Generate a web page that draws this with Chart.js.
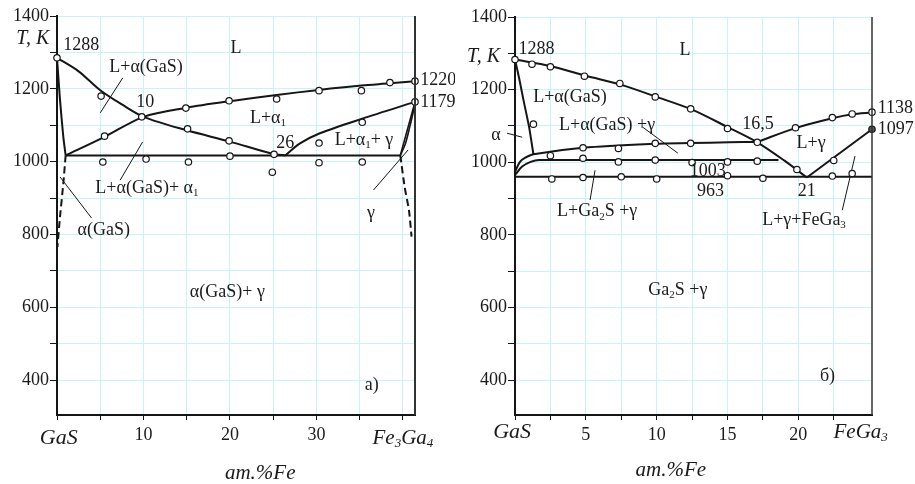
<!DOCTYPE html>
<html>
<head>
<meta charset="utf-8">
<script src="https://cdn.jsdelivr.net/npm/chart.js@4.4.0/dist/chart.umd.min.js"></script>
<style>
  body { margin: 0; background: #fff; }
  #wrap { position: relative; width: 915px; height: 484px; }
  canvas { position: absolute; top: 0; }
  #chartA { left: 0; }
  #chartB { left: 455px; }
</style>
</head>
<body>
<div id="wrap">
  <canvas id="chartA" width="455" height="484"></canvas>
  <canvas id="chartB" width="460" height="484"></canvas>
</div>
<script>
// ---- данные: а) GaS – Fe3Ga4 ----
const xTicksA = [0, 5, 10, 15, 20, 25, 30, 35, 40];
const xLabelsA = { 10: '10', 20: '20', 30: '30' };
const yTicks = [400, 500, 600, 700, 800, 900, 1000, 1100, 1200, 1300, 1400];

const liqGaS_A = [[0, 1285], [2.5, 1248], [5, 1196], [7.5, 1157], [10, 1123], [15, 1086], [20, 1055], [25, 1021], [26.4, 1017]];
const solGaS_A = [[0, 1285], [0.35, 1169], [0.73, 1068], [1.0, 1017]];
const solGaSDash_A = [[1.0, 1017], [0.73, 940], [0.35, 849], [0.05, 766]];
const liqAlpha1_A = [[1.0, 1017], [5.5, 1068], [10, 1123], [15, 1148], [20, 1166], [25.4, 1183], [30.3, 1197], [35.2, 1209], [38.5, 1215], [41.4, 1221]];
const liqGamma_A = [[26.4, 1017], [28.1, 1050], [30.4, 1078], [35.3, 1118], [41.4, 1164]];
const eutectic_A = [[1.0, 1017], [39.7, 1017]];
const lensStraight_A = [[39.7, 1017], [41.4, 1164]];
const lensCurve_A = [[39.7, 1017], [40.3, 1050], [40.8, 1096], [41.2, 1137], [41.4, 1164]];
const gammaDash_A = [[39.7, 1017], [40.2, 931], [40.7, 867], [41.0, 794]];
const points_A = [
  [0, 1285], [5.1, 1180], [9.8, 1123], [15.1, 1090], [19.9, 1057], [25.1, 1020],
  [5.5, 1070], [14.9, 1147], [19.9, 1167], [25.4, 1172], [30.3, 1195], [35.2, 1195], [38.5, 1217], [41.4, 1221],
  [30.3, 1051], [35.3, 1108], [41.4, 1164],
  [5.3, 999], [10.3, 1007], [15.2, 999], [20, 1015], [24.9, 971], [30.3, 997], [35.3, 999]
];

// ---- данные: б) GaS – FeGa3 ----
const xTicksB = [0, 2.5, 5, 7.5, 10, 12.5, 15, 17.5, 20, 22.5];
const xLabelsB = { 5: '5', 10: '10', 15: '15', 20: '20' };

const liqGaS_B = [[0, 1283], [2.5, 1265], [5, 1238], [7.5, 1213], [10, 1180], [12.5, 1145], [15, 1097], [17.1, 1055], [19, 1005], [20.6, 958]];
const solGaS_B = [[0, 1283], [0.3, 1230], [0.6, 1171], [0.99, 1098], [1.3, 1022]];
const upper_B = [[0, 974], [0.35, 1001], [0.7, 1012], [1.3, 1022], [4.8, 1040], [9.9, 1051], [12.4, 1053], [15.1, 1055], [17.1, 1056]];
const liqGamma_B = [[17.1, 1056], [19.8, 1094], [22.4, 1121], [23.8, 1132], [25.2, 1137]];
const line1003_B = [[0, 965], [0.5, 988], [1.1, 1001], [1.7, 1006], [18.6, 1006]];
const eutectic_B = [[0, 960], [25.2, 960]];
const liqFeGa3_B = [[20.6, 958], [25.2, 1091]];
const points_B = [
  [0, 1283], [1.2, 1270], [2.5, 1263], [4.9, 1237], [7.4, 1217], [9.9, 1180], [12.4, 1147], [15, 1093], [17.1, 1055], [19.9, 980],
  [1.3, 1105], [2.5, 1018], [4.8, 1040], [4.8, 1011], [4.8, 958], [2.6, 954],
  [7.3, 1038], [7.3, 1001], [7.5, 960], [9.9, 1052], [9.9, 1006], [10, 954],
  [12.4, 1052], [12.5, 999], [15, 1001], [15, 963], [17.1, 1003], [17.5, 956],
  [19.8, 1095], [22.4, 1123], [23.8, 1133], [25.2, 1138],
  [22.5, 1005], [22.4, 962], [23.8, 969]
];
const pointDark_B = [[25.2, 1091]];

// выноски
const leaders_A = [
  [[7.6, 1230], [5.0, 1134]],
  [[7.3, 949], [9.9, 1054]],
  [[4.0, 845], [0.35, 958]],
  [[36.6, 922], [40.6, 1032]]
];
const leaders_B = [
  [[-0.56, 1080], [0.5, 1069]],
  [[9.0, 1097], [11.5, 1025]],
  [[5.3, 896], [5.65, 978]],
  [[23.1, 868], [24.0, 1017]]
];

// подписи (координаты в единицах осей)
const labels_A = [
  { t: '1288', x: 2.8, y: 1320 },
  { t: 'L+α(GaS)', x: 10.3, y: 1260 },
  { t: '10', x: 10.2, y: 1164 },
  { t: 'L', x: 20.7, y: 1312 },
  { t: '1220', x: 42.0, y: 1224, a: 'left' },
  { t: '1179', x: 42.0, y: 1164, a: 'left' },
  { t: 'L+α_1', x: 24.4, y: 1120 },
  { t: '26', x: 26.4, y: 1051 },
  { t: 'L+α_1+ γ', x: 35.5, y: 1059 },
  { t: 'L+α(GaS)+ α_1', x: 10.4, y: 927 },
  { t: 'α(GaS)', x: 5.4, y: 812 },
  { t: 'γ', x: 36.3, y: 859 },
  { t: 'α(GaS)+ γ', x: 19.7, y: 642 },
  { t: 'а)', x: 36.4, y: 386 },
  { t: 'T, K', x: -2.8, y: 1337, it: true }
];
const labels_B = [
  { t: 'T, K', x: -2.22, y: 1290, it: true },
  { t: '1288', x: 1.52, y: 1311 },
  { t: 'L', x: 12.0, y: 1309 },
  { t: 'L+α(GaS)', x: 3.88, y: 1178 },
  { t: 'α', x: -1.34, y: 1075 },
  { t: 'L+α(GaS) +γ', x: 6.5, y: 1102 },
  { t: 'L+Ga_2S +γ', x: 5.8, y: 864 },
  { t: '16,5', x: 17.15, y: 1105 },
  { t: 'L+γ', x: 20.9, y: 1052 },
  { t: '1003', x: 13.6, y: 974 },
  { t: '963', x: 13.8, y: 919 },
  { t: '21', x: 20.6, y: 921 },
  { t: 'L+γ+FeGa_3', x: 20.4, y: 841 },
  { t: '1138', x: 25.6, y: 1148, a: 'left' },
  { t: '1097', x: 25.6, y: 1091, a: 'left' },
  { t: 'Ga_2S +γ', x: 11.5, y: 648 },
  { t: 'б)', x: 22.06, y: 410 }
];

const serif = '"Liberation Serif", "DejaVu Serif", serif';
const ink = '#151515';
const gridCol = '#c6f5f5';

function toXY(arr) { return arr.map(([x, y]) => ({ x, y })); }

function curve(arr, opts) {
  return Object.assign({
    data: toXY(arr), showLine: true, borderColor: ink, borderWidth: 2,
    pointRadius: 0, tension: 0.3, fill: false, clip: false
  }, opts || {});
}

function markers(arr, fillCol) {
  return {
    data: toXY(arr), showLine: false, pointRadius: 3.2, pointStyle: 'circle',
    pointBackgroundColor: fillCol || '#fff', pointBorderColor: ink, pointBorderWidth: 1.2, clip: false
  };
}

// текст с нижними индексами: "_3" -> индекс
function drawRich(ctx, str, px, py, align, italic, size) {
  const parts = [];
  let buf = '';
  for (let i = 0; i < str.length; i++) {
    if (str[i] === '_') {
      if (buf) parts.push([buf, false]);
      buf = '';
      parts.push([str[i + 1], true]);
      i++;
    } else buf += str[i];
  }
  if (buf) parts.push([buf, false]);
  const st = italic ? 'italic ' : '';
  const mainF = st + size + 'px ' + serif;
  const subF = st + Math.round(size * 0.62) + 'px ' + serif;
  let w = 0;
  parts.forEach(p => { ctx.font = p[1] ? subF : mainF; w += ctx.measureText(p[0]).width; });
  let x = align === 'left' ? px : align === 'right' ? px - w : px - w / 2;
  ctx.textBaseline = 'middle';
  ctx.textAlign = 'left';
  ctx.fillStyle = '#1a1a1a';
  parts.forEach(p => {
    ctx.font = p[1] ? subF : mainF;
    ctx.fillText(p[0], x, p[1] ? py + size * 0.28 : py);
    x += ctx.measureText(p[0]).width;
  });
}

function makePanel(id, cfg) {
  const datasets = [
    markers(cfg.points),
  ];
  if (cfg.darkPoints) datasets.push(markers(cfg.darkPoints, '#555'));
  cfg.curves.forEach(c => datasets.push(curve(c[0], c[1])));
  cfg.leaders.forEach(l => datasets.push(curve(l, { borderWidth: 1, tension: 0 })));

  const textPlugin = {
    id: 'texts',
    afterDraw(chart) {
      const ctx = chart.ctx;
      const xs = chart.scales.x, ys = chart.scales.y;
      const area = chart.chartArea;
      ctx.save();
      // правая рамка
      ctx.strokeStyle = '#333';
      ctx.lineWidth = cfg.rightBorder;
      ctx.beginPath();
      ctx.moveTo(area.right, area.top);
      ctx.lineTo(area.right, area.bottom);
      ctx.stroke();
      cfg.labels.forEach(l => {
        drawRich(ctx, l.t, xs.getPixelForValue(l.x), ys.getPixelForValue(l.y), l.a || 'center', !!l.it, l.it ? 20 : 18);
      });
      // подписи концов оси X
      drawRich(ctx, 'GaS', xs.getPixelForValue(cfg.leftName[0]), area.bottom + cfg.leftName[1], 'center', true, 22);
      drawRich(ctx, cfg.rightName[2], xs.getPixelForValue(cfg.rightName[0]), area.bottom + cfg.rightName[1], 'center', true, 21);
      drawRich(ctx, 'am.%Fe', xs.getPixelForValue(cfg.axisTitle[0]), area.bottom + cfg.axisTitle[1], 'center', true, 21);
      ctx.restore();
    }
  };

  return new Chart(document.getElementById(id), {
    type: 'scatter',
    data: { datasets },
    options: {
      responsive: false,
      animation: false,
      devicePixelRatio: 1,
      layout: { padding: cfg.padding },
      plugins: { legend: { display: false }, tooltip: { enabled: false } },
      scales: {
        x: {
          type: 'linear', min: 0, max: cfg.xMax,
          afterBuildTicks: s => { s.ticks = cfg.xTicks.map(v => ({ value: v })); },
          afterFit: s => { s.height = 30; },
          grid: { color: gridCol, lineWidth: 1, tickColor: ink, tickLength: 5, drawTicks: true },
          border: { color: ink, width: 2 },
          ticks: {
            autoSkip: false, maxRotation: 0, padding: 4, color: '#1a1a1a',
            font: { family: serif, size: 18 },
            callback: v => cfg.xLabels[v] || ''
          }
        },
        y: {
          type: 'linear', min: 304, max: 1400,
          afterBuildTicks: s => { s.ticks = yTicks.map(v => ({ value: v })); },
          afterFit: s => { s.width = cfg.yWidth; },
          grid: { color: gridCol, lineWidth: 1, tickColor: ink, tickLength: 7, drawTicks: true },
          border: { color: ink, width: 2 },
          ticks: {
            padding: 1, color: '#1a1a1a',
            font: { family: serif, size: 18 },
            callback: v => (v % 200 === 0 ? String(v) : '')
          }
        }
      }
    },
    plugins: [textPlugin]
  });
}

const dashed = { borderDash: [7, 4], borderWidth: 2 };

makePanel('chartA', {
  xMax: 41.4, xTicks: xTicksA, xLabels: xLabelsA, yWidth: 57,
  padding: { left: 0, top: 16, right: 40, bottom: 39 },
  rightBorder: 2,
  points: points_A,
  curves: [
    [liqGaS_A], [solGaS_A, { tension: 0.2 }], [solGaSDash_A, Object.assign({ tension: 0.2 }, dashed)],
    [liqAlpha1_A], [liqGamma_A], [eutectic_A, { tension: 0 }],
    [lensStraight_A, { tension: 0, borderWidth: 1.6 }], [lensCurve_A, { tension: 0.3, borderWidth: 1.6 }],
    [gammaDash_A, Object.assign({ tension: 0.2 }, dashed)]
  ],
  leaders: leaders_A,
  labels: labels_A,
  leftName: [0.2, 23],
  rightName: [40, 23, 'Fe_3Ga_4'],
  axisTitle: [23.5, 58]
});

makePanel('chartB', {
  xMax: 25.2, xTicks: xTicksB, xLabels: xLabelsB, yWidth: 60,
  padding: { left: 0, top: 17, right: 43, bottom: 39 },
  rightBorder: 1.5,
  points: points_B,
  darkPoints: pointDark_B,
  curves: [
    [liqGaS_B], [solGaS_B, { tension: 0.2 }], [upper_B], [liqGamma_B],
    [line1003_B, { cubicInterpolationMode: 'monotone' }], [eutectic_B, { tension: 0 }],
    [liqFeGa3_B, { tension: 0 }]
  ],
  leaders: leaders_B,
  labels: labels_B,
  leftName: [-0.2, 17],
  rightName: [24.4, 17, 'FeGa_3'],
  axisTitle: [11.0, 55]
});
</script>
</body>
</html>
